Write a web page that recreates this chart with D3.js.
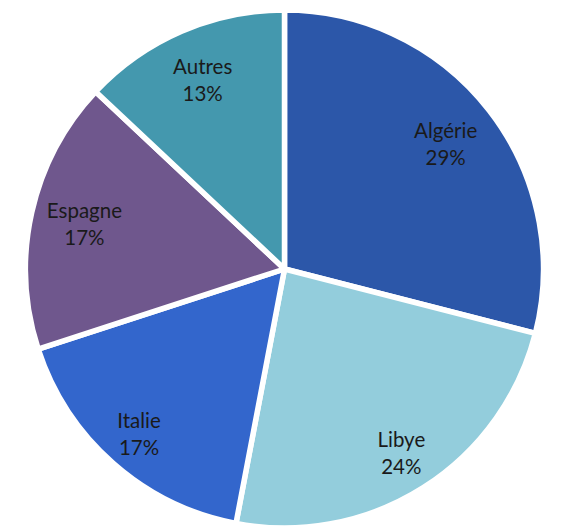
<!DOCTYPE html>
<html>
<head>
<meta charset="utf-8">
<script src="https://cdn.jsdelivr.net/npm/d3@7/dist/d3.min.js"></script>
<style>
  html, body { margin: 0; padding: 0; background: #ffffff; }
  svg { display: block; }
</style>
</head>
<body>
<svg id="chart" width="562" height="527"></svg>
<script>
const categories = ["Algérie", "Libye", "Italie", "Espagne", "Autres"];
const values = [29, 24, 17, 17, 13];
const colors = ["#2C57A9", "#93CDDC", "#3366CC", "#6F578D", "#4498AE"];

// label distance from centre, per slice (layout only)
const labelRadii = [204, 218, 220, 205, 206];

const cx = 284.5, cy = 269, R = 259;

const svg = d3.select("#chart");
const g = svg.append("g").attr("transform", `translate(${cx},${cy})`);

const data = categories.map((c, i) => ({ cat: c, value: values[i], color: colors[i], lr: labelRadii[i] }));

const pie = d3.pie().sort(null).value(d => d.value);
const arcs = pie(data);

const arc = d3.arc().innerRadius(0).outerRadius(R);

g.selectAll("path.slice")
  .data(arcs)
  .join("path")
  .attr("class", "slice")
  .attr("d", arc)
  .attr("fill", d => d.data.color)
  .attr("stroke", "#ffffff")
  .attr("stroke-width", 5.5)
  .attr("stroke-linejoin", "round");

const total = d3.sum(values);
const labels = g.selectAll("text.lbl")
  .data(arcs)
  .join("text")
  .attr("class", "lbl")
  .attr("transform", d => {
    const a = d3.arc().innerRadius(d.data.lr).outerRadius(d.data.lr);
    return `translate(${a.centroid(d)})`;
  })
  .attr("text-anchor", "middle")
  .attr("font-family", "Lato, 'Open Sans', sans-serif")
  .attr("font-size", 20.5)
  .attr("fill", "#1a1a1a");

labels.append("tspan")
  .attr("x", 0)
  .attr("y", -6)
  .text(d => d.data.cat);
labels.append("tspan")
  .attr("x", 0)
  .attr("y", 21)
  .text(d => Math.round(d.data.value / total * 100) + "%");
</script>
</body>
</html>
